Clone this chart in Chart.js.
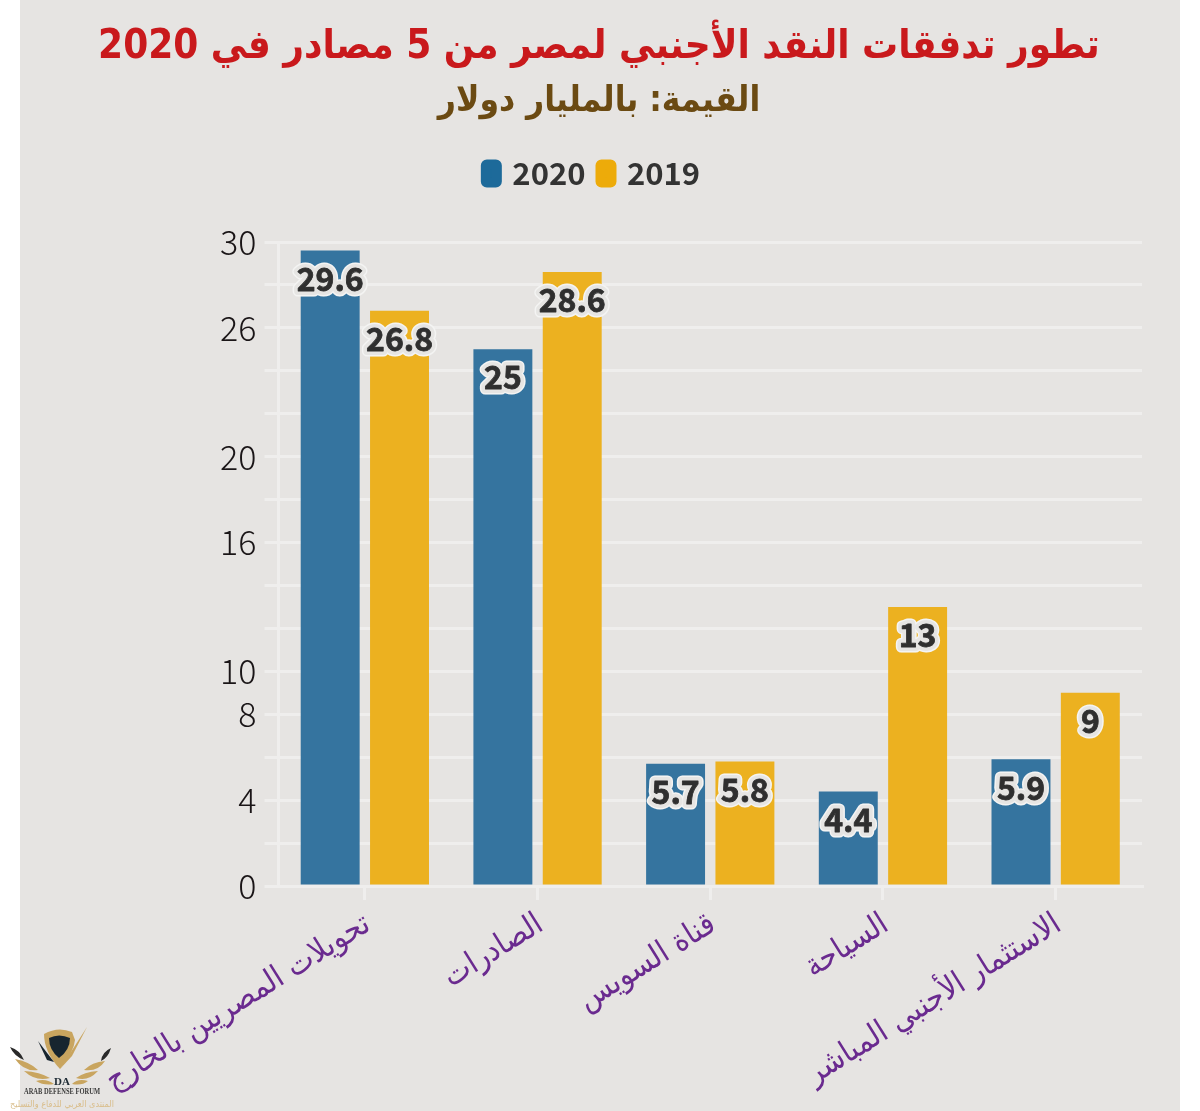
<!DOCTYPE html>
<html>
<head>
<meta charset="utf-8">
<title>chart</title>
<script src="https://cdn.jsdelivr.net/npm/chart.js@4"></script>
<style>
body { margin: 0; background: #fff; }
#myChart { position: absolute; left: 20px; top: 0; background: #e6e4e2; }
#logo { position: absolute; left: 0; top: 0; }
</style>
</head>
<body>
<canvas id="myChart" dir="rtl" width="1160" height="1111"></canvas>
<svg id="logo" width="130" height="1111" viewBox="0 0 130 1111">
    <path d="M44 1034 Q58 1026 72 1032 L75 1040 Q74 1052 60 1069 Q44 1052 44 1034Z" fill="#c9a55f"/>
    <path d="M49 1038 Q59 1033 70 1038 Q70 1050 59 1058 Q49 1050 49 1038Z" fill="#17252f"/>
    <path d="M60 1069 L87 1027 L72 1056Z" fill="#c9a55f"/>
    <path d="M38 1041 L54 1062 L47 1060Z" fill="#17252f"/>
    <path d="M10 1047 Q20 1050 24 1060 Q14 1056 10 1047Z M101 1061 Q102 1052 111 1048 Q108 1058 101 1061Z" fill="#2a2a2a"/>
    <path d="M15 1059 Q30 1062 38 1070 Q24 1072 15 1059Z M24 1071 Q40 1072 50 1078 Q36 1082 24 1071Z M36 1081 Q46 1078 54 1084 Q44 1086 36 1081Z" fill="#c9a55f"/>
    <path d="M105 1061 Q92 1062 84 1070 Q98 1072 105 1061Z M98 1071 Q84 1072 76 1078 Q88 1082 98 1071Z M88 1081 Q78 1078 72 1084 Q82 1086 88 1081Z" fill="#c9a55f"/>
    <text x="62" y="1085" text-anchor="middle" font-family="Liberation Serif" font-weight="bold" font-size="11" fill="#1d2a33">DA</text>
    <text x="62" y="1094" text-anchor="middle" font-family="Liberation Serif" font-weight="bold" font-size="8" textLength="76" lengthAdjust="spacingAndGlyphs" fill="#3b3b3b">ARAB DEFENSE FORUM</text>
    <text x="62" y="1107" text-anchor="middle" direction="rtl" font-family="DejaVu Sans Condensed" font-size="9" fill="#d9bd8a">المنتدى العربي للدفاع والتسليح</text>
</svg>
<script>
const categories = ['تحويلات المصريين بالخارج', 'الصادرات', 'قناة السويس', 'السياحة', 'الاستثمار الأجنبي المباشر'];
const values2020 = [29.6, 25, 5.7, 4.4, 5.9];
const values2019 = [26.8, 28.6, 5.8, 13, 9];
const yTickLabels = [0, 4, 8, 10, 16, 20, 26, 30];
const legendColors = ['#1d6a9a', '#edab0a'];

const gridColor = '#efeeed';

// value labels sit inside the bars with a light halo around them
const barLabels = {
    id: 'barLabels',
    afterDatasetsDraw(chart) {
        const ctx = chart.ctx;
        ctx.save();
        ctx.font = 'bold 32px "Noto Sans CJK SC"';
        ctx.textAlign = 'center';
        ctx.textBaseline = 'middle';
        ctx.lineJoin = 'round';
        chart.data.datasets.forEach((dataset, i) => {
            chart.getDatasetMeta(i).data.forEach((bar, j) => {
                const text = String(dataset.data[j]);
                const y = bar.y + 28;
                ctx.strokeStyle = '#f4f4f3';
                ctx.lineWidth = 11;
                ctx.strokeText(text, bar.x, y);
                ctx.strokeStyle = '#e6e5e3';
                ctx.lineWidth = 8;
                ctx.strokeText(text, bar.x, y);
                ctx.strokeStyle = '#2f2f2f';
                ctx.lineWidth = 0.8;
                ctx.strokeText(text, bar.x, y);
                ctx.fillStyle = '#2f2f2f';
                ctx.fillText(text, bar.x, y);
            });
        });
        ctx.restore();
    }
};

// titles centre on the canvas, not on the padded area; the legend sits above the subtitle gap
const headerShift = {
    id: 'headerShift',
    afterLayout(chart) {
        chart.boxes.filter(box => box.options && box.options.text).forEach(box => {
            box.left += 18;
            box.right += 18;
        });
        chart.legend.left += 12;
        chart.legend.right += 12;
        chart.legend.top -= 43;
        chart.legend.bottom -= 43;
    }
};

const ctx = document.getElementById('myChart').getContext('2d');
const myChart = new Chart(ctx, {
    type: 'bar',
    data: {
        labels: categories,
        datasets: [
            { label: '2020', data: values2020, backgroundColor: '#35749f' },
            { label: '2019', data: values2019, backgroundColor: '#ecb120' }
        ]
    },
    plugins: [barLabels, headerShift],
    options: {
        responsive: false,
        animation: false,
        categoryPercentage: 0.803,
        barPercentage: 0.85,
        layout: { padding: { top: 24, right: 38, bottom: 0, left: 0 } },
        plugins: {
            title: {
                display: true,
                text: 'تطور تدفقات النقد الأجنبي لمصر من 5 مصادر في 2020',
                color: '#c9191c',
                font: { family: 'DejaVu Sans Condensed', size: 40, weight: 'bold' },
                padding: { top: 0, bottom: 0 }
            },
            subtitle: {
                display: true,
                text: 'القيمة: بالمليار دولار',
                color: '#6b4a12',
                font: { family: 'DejaVu Sans Condensed', size: 35, weight: 'bold' },
                padding: { top: 9, bottom: 63 }
            },
            legend: {
                position: 'top',
                labels: {
                    boxWidth: 11,
                    boxHeight: 18,
                    useBorderRadius: true,
                    borderRadius: 1,
                    padding: 15,
                    color: '#333333',
                    font: { family: 'Noto Sans CJK SC', size: 31, weight: 'bold' },
                    generateLabels(chart) {
                        return Chart.defaults.plugins.legend.labels.generateLabels(chart).map((item, i) => ({
                            ...item,
                            fillStyle: legendColors[i],
                            lineWidth: 10,
                            strokeStyle: legendColors[i]
                        }));
                    }
                }
            },
            tooltip: { enabled: false }
        },
        scales: {
            x: {
                afterFit(scale) { scale.height = 225; },
                grid: { offset: false, drawOnChartArea: false, color: gridColor, lineWidth: 3, tickLength: 14 },
                border: { color: gridColor, width: 3 },
                ticks: {
                    color: '#6a2a8f',
                    font: { family: 'DejaVu Sans Condensed', size: 31.5 },
                    minRotation: 32,
                    maxRotation: 32,
                    autoSkip: false,
                    padding: 6,
                    labelOffset: 3
                }
            },
            y: {
                min: 0,
                max: 30,
                afterFit(scale) { scale.width = 258.5; },
                grid: { color: gridColor, lineWidth: 3, tickLength: 14 },
                border: { color: gridColor, width: 3 },
                ticks: {
                    stepSize: 2,
                    autoSkip: false,
                    color: '#1a1517',
                    padding: 8,
                    font: { family: 'Noto Sans CJK SC', size: 34, weight: 300 },
                    callback: value => yTickLabels.includes(value) ? value : ''
                }
            }
        }
    }
});
</script>
</body>
</html>
